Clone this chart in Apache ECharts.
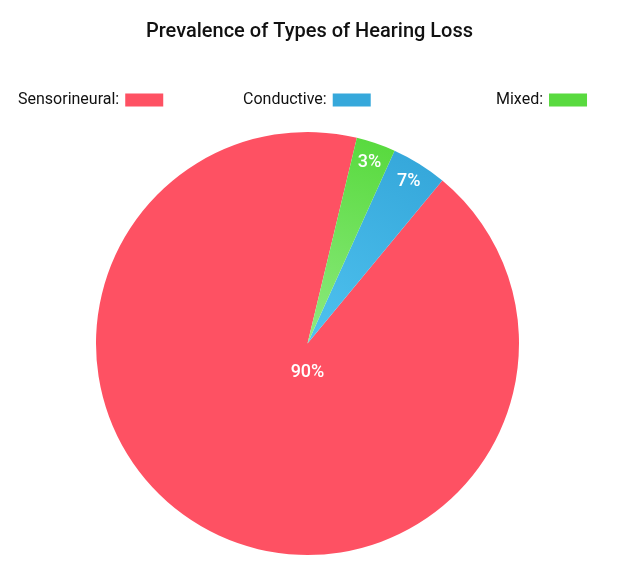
<!DOCTYPE html>
<html>
<head>
<meta charset="utf-8">
<script src="https://cdn.jsdelivr.net/npm/echarts@6/dist/echarts.min.js"></script>
<style>
  html, body { margin: 0; padding: 0; background: #fff; }
  #chartContainer { width: 619px; height: 581px; }
</style>
</head>
<body>
<div id="chartContainer"></div>
<script>
// ============================================================
// DATA
// Slice sizes follow the drawn angles, labels follow the printed text
// ============================================================

const hearingTypes = ['Sensorineural', 'Conductive', 'Mixed'];
const sliceShares = [92.75, 4.25, 3.0];
const sliceLabels = ['90%', '7%', '3%'];

// outer / inner colour of each slice (gradient towards the centre)
const outerColors = ['#FE5163', '#36A8DB', '#59DA3F'];
const innerColors = ['#FE5163', '#4FC2EF', '#8EEA80'];

// ============================================================
// LAYOUT
// ============================================================

const pieCenter = [307.5, 343.5];
const pieRadius = 211.5;
const legendLefts = [13, 238, 491];

const container = document.getElementById('chartContainer');
const chartInstance = echarts.init(container);

function sliceFill(i) {
  return {
    type: 'radial',
    x: pieCenter[0],
    y: pieCenter[1],
    r: pieRadius,
    global: true,
    colorStops: [
      { offset: 0, color: innerColors[i] },
      { offset: 1, color: outerColors[i] }
    ]
  };
}

// one legend per item so they can sit in three columns like the original
const legends = hearingTypes.map(function(name, i) {
  return {
    left: legendLefts[i],
    top: 87,
    align: 'right',
    icon: 'rect',
    itemWidth: 38,
    itemHeight: 13,
    selectedMode: false,
    formatter: '{name}:',
    textStyle: {
      fontFamily: 'Roboto',
      fontSize: 16,
      color: '#111',
      padding: [0, 1, 0, 0]
    },
    data: [{ name: name, itemStyle: { color: outerColors[i] } }]
  };
});

const mainData = hearingTypes.map(function(name, i) {
  const item = {
    name: name,
    value: sliceShares[i],
    itemStyle: { color: sliceFill(i) },
    label: { show: false }
  };
  // the big slice carries its label just below the centre
  if (i === 0) {
    item.label = {
      show: true,
      position: 'center',
      offset: [0, 29],
      formatter: sliceLabels[i]
    };
  }
  return item;
});

// transparent ring so the small labels sit near the rim
const ringData = hearingTypes.map(function(name, i) {
  return {
    name: name,
    value: sliceShares[i],
    itemStyle: { color: 'rgba(0,0,0,0)' },
    label: { show: i > 0, formatter: sliceLabels[i] }
  };
});

const labelFont = {
  color: '#fff',
  fontFamily: 'Roboto',
  fontSize: 18,
  fontWeight: 500
};

chartInstance.setOption({
  animation: false,
  title: {
    text: 'Prevalence of Types of Hearing Loss',
    left: 'center',
    top: 17,
    textStyle: {
      fontFamily: 'Roboto',
      fontSize: 20,
      fontWeight: 500,
      color: '#111'
    }
  },
  legend: legends,
  series: [
    {
      type: 'pie',
      center: pieCenter,
      radius: [0, pieRadius],
      startAngle: 76.5,
      clockwise: false,
      avoidLabelOverlap: false,
      labelLine: { show: false },
      label: labelFont,
      emphasis: { disabled: true },
      data: mainData
    },
    {
      type: 'pie',
      silent: true,
      center: pieCenter,
      radius: [165, pieRadius],
      startAngle: 76.5,
      clockwise: false,
      avoidLabelOverlap: false,
      labelLine: { show: false },
      label: Object.assign({ position: 'inside' }, labelFont),
      emphasis: { disabled: true },
      data: ringData
    }
  ]
});
</script>
</body>
</html>
